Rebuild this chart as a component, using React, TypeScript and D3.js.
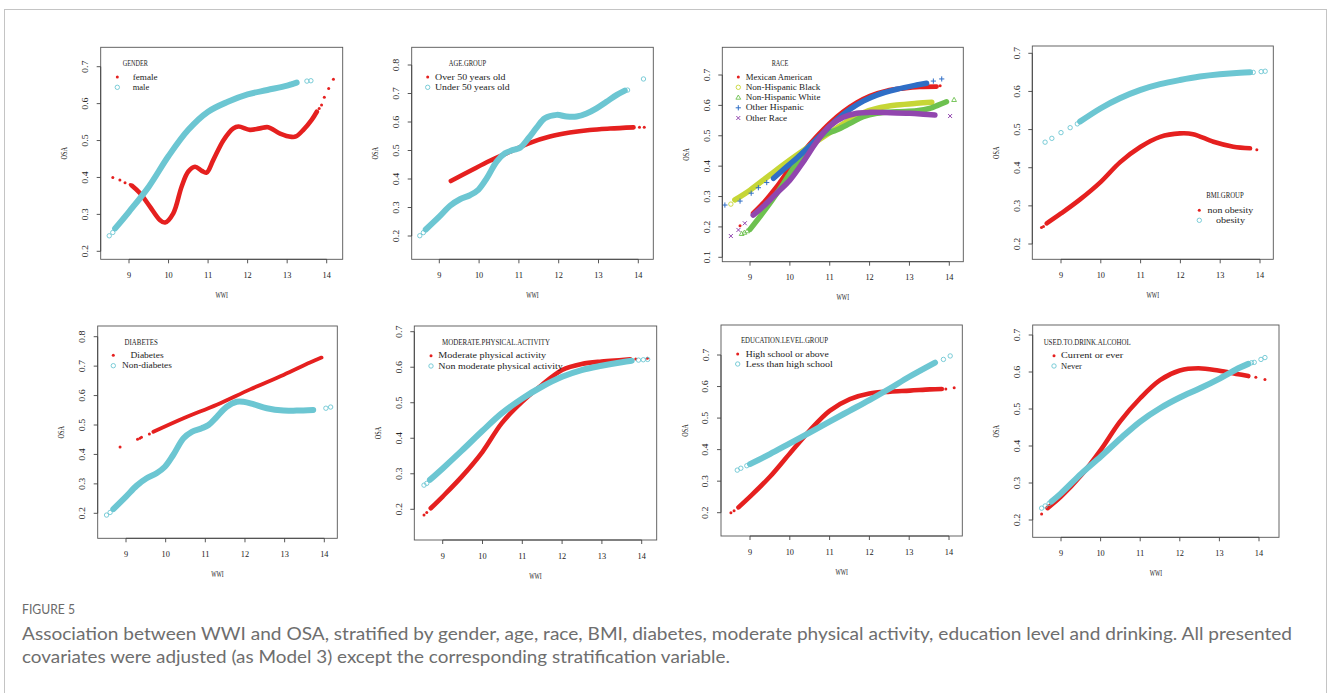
import React from 'react';
import * as d3 from 'd3';

type Pt = [number, number];

// ---------------- data ----------------
const xTicks = [9, 10, 11, 12, 13, 14];

// GENDER
const femaleCurve: Pt[] = [[9.07,0.378],[9.28,0.357],[9.53,0.321],[9.78,0.285],[9.91,0.278],[10.12,0.303],[10.33,0.375],[10.5,0.416],[10.67,0.429],[10.84,0.418],[10.96,0.413],[11.13,0.447],[11.39,0.501],[11.64,0.533],[11.77,0.538],[12.06,0.529],[12.31,0.533],[12.52,0.536],[12.82,0.519],[13.11,0.51],[13.22,0.511],[13.41,0.529],[13.62,0.556],[13.75,0.578]];
const femaleDots: Pt[] = [[8.59,0.4],[8.77,0.393],[8.9,0.386],[9.03,0.381],[13.81,0.587],[13.87,0.596],[13.94,0.617],[14.05,0.641],[14.17,0.666]];
const maleCurve: Pt[] = [[8.65,0.262],[9,0.307],[9.5,0.375],[10,0.458],[10.5,0.529],[11,0.578],[11.5,0.605],[12,0.625],[12.5,0.637],[13,0.649],[13.24,0.657]];
const maleDots: Pt[] = [[8.5,0.242],[8.59,0.251],[13.07,0.652],[13.15,0.654],[13.5,0.661],[13.6,0.662]];

// AGE.GROUP
const over50Curve: Pt[] = [[9.29,0.393],[9.77,0.428],[10.27,0.464],[10.78,0.496],[11.28,0.527],[11.78,0.549],[12.28,0.563],[12.78,0.572],[13.29,0.577],[13.88,0.581]];
const over50Dots: Pt[] = [[14.03,0.582],[14.15,0.582]];
const under50Curve: Pt[] = [[8.66,0.223],[9,0.268],[9.27,0.306],[9.52,0.329],[9.77,0.343],[9.98,0.362],[10.19,0.402],[10.44,0.461],[10.65,0.49],[10.86,0.502],[11.03,0.51],[11.24,0.543],[11.45,0.581],[11.65,0.613],[11.95,0.625],[12.2,0.619],[12.45,0.619],[12.7,0.63],[12.95,0.648],[13.2,0.671],[13.46,0.695],[13.66,0.71]];
const under50Dots: Pt[] = [[8.51,0.201],[8.6,0.212],[13.73,0.712],[14.13,0.751]];

// RACE
const mexCurve: Pt[] = [[9.08,0.245],[9.33,0.278],[9.67,0.332],[10,0.393],[10.34,0.448],[10.67,0.497],[11,0.541],[11.34,0.579],[11.68,0.609],[12.01,0.631],[12.43,0.648],[12.85,0.656],[13.26,0.661],[13.68,0.662]];
const mexDots: Pt[] = [[8.75,0.204],[13.77,0.665]];
const blackCurve: Pt[] = [[8.62,0.289],[9,0.321],[9.5,0.371],[10,0.42],[10.5,0.466],[11,0.51],[11.5,0.552],[11.84,0.576],[12.18,0.59],[12.68,0.601],[13.18,0.607],[13.56,0.61]];
const blackDots: Pt[] = [[8.52,0.275]];
const whiteCurve: Pt[] = [[9,0.192],[9.25,0.234],[9.5,0.278],[9.84,0.343],[10.17,0.409],[10.5,0.464],[10.84,0.502],[11.17,0.519],[11.51,0.541],[11.84,0.563],[12.18,0.574],[12.68,0.579],[13.18,0.582],[13.51,0.59],[13.72,0.601],[13.93,0.612]];
const whiteDots: Pt[] = [[8.79,0.177],[8.86,0.181],[8.93,0.186],[14.12,0.618]];
const hispCurve: Pt[] = [[9.59,0.36],[9.84,0.389],[10.17,0.426],[10.5,0.466],[10.84,0.51],[11.17,0.552],[11.51,0.587],[11.84,0.614],[12.18,0.634],[12.68,0.653],[13.18,0.667],[13.43,0.673]];
const hispDots: Pt[] = [[8.37,0.272],[8.75,0.285],[9.03,0.311],[9.21,0.329],[9.42,0.346],[13.6,0.68],[13.81,0.687]];
const otherCurve: Pt[] = [[9.08,0.239],[9.33,0.267],[9.67,0.311],[10,0.354],[10.34,0.415],[10.67,0.48],[11,0.532],[11.34,0.561],[11.68,0.574],[12.01,0.577],[12.51,0.576],[13.01,0.574],[13.35,0.571],[13.64,0.568]];
const otherDots: Pt[] = [[8.52,0.17],[8.71,0.19],[8.87,0.212],[14.02,0.565]];

// BMI.GROUP
const nonObeseCurve: Pt[] = [[8.64,0.254],[9,0.28],[9.48,0.317],[10,0.363],[10.48,0.414],[11,0.455],[11.49,0.481],[11.99,0.49],[12.32,0.488],[12.83,0.468],[13.33,0.455],[13.75,0.451]];
const nonObeseDots: Pt[] = [[8.51,0.243],[8.56,0.246],[13.92,0.447]];
const obeseCurve: Pt[] = [[9.48,0.521],[10,0.556],[10.48,0.582],[11,0.604],[11.49,0.619],[11.99,0.63],[12.49,0.639],[12.99,0.645],[13.5,0.649],[13.75,0.65]];
const obeseDots: Pt[] = [[8.6,0.467],[8.77,0.477],[9,0.492],[9.23,0.505],[9.41,0.515],[13.83,0.65],[14.03,0.652],[14.13,0.653]];

// DIABETES
const diabCurve: Pt[] = [[9.69,0.477],[10.45,0.523],[11.29,0.569],[12.13,0.621],[12.97,0.67],[13.64,0.712],[13.93,0.729]];
const diabDots: Pt[] = [[8.85,0.425],[9.29,0.452],[9.35,0.455],[9.39,0.458],[9.59,0.469]];
const nonDiabCurve: Pt[] = [[8.68,0.214],[9,0.257],[9.27,0.294],[9.52,0.319],[9.77,0.336],[9.98,0.358],[10.19,0.398],[10.45,0.455],[10.66,0.477],[10.91,0.489],[11.08,0.5],[11.29,0.528],[11.54,0.562],[11.79,0.579],[11.96,0.579],[12.21,0.571],[12.55,0.557],[12.97,0.549],[13.3,0.549],[13.72,0.551]];
const nonDiabDots: Pt[] = [[8.51,0.194],[8.6,0.203],[14.04,0.557],[14.16,0.561]];

// MODERATE.PHYSICAL.ACTIVITY
const modCurve: Pt[] = [[8.7,0.203],[9,0.236],[9.48,0.292],[10,0.362],[10.48,0.442],[11,0.503],[11.49,0.55],[12,0.592],[12.49,0.609],[12.99,0.616],[13.5,0.62],[13.71,0.622]];
const modDots: Pt[] = [[8.53,0.184],[8.6,0.191],[13.85,0.623],[14.14,0.625]];
const nonModCurve: Pt[] = [[8.68,0.283],[9,0.315],[9.48,0.365],[10,0.421],[10.48,0.47],[11,0.512],[11.49,0.545],[12,0.573],[12.49,0.592],[12.99,0.604],[13.5,0.614],[13.75,0.618]];
const nonModDots: Pt[] = [[8.53,0.268],[8.6,0.273],[13.92,0.62],[14.04,0.621],[14.15,0.622]];

// EDUCATION.LEVEL.GROUP
const hsCurve: Pt[] = [[8.71,0.217],[9,0.251],[9.5,0.314],[10,0.388],[10.51,0.462],[11,0.523],[11.51,0.56],[12,0.578],[12.52,0.584],[13.02,0.587],[13.52,0.591],[13.82,0.592]];
const hsDots: Pt[] = [[8.52,0.2],[8.6,0.206],[13.92,0.592],[14.13,0.596]];
const lessHsCurve: Pt[] = [[9,0.354],[9.5,0.386],[10,0.42],[10.5,0.454],[11,0.489],[11.5,0.523],[12,0.557],[12.5,0.593],[13,0.631],[13.65,0.676]];
const lessHsDots: Pt[] = [[8.68,0.335],[8.77,0.341],[8.92,0.349],[13.86,0.686],[14.03,0.697]];

// USED.TO.DRINK.ALCOHOL
const currentCurve: Pt[] = [[8.66,0.232],[9,0.263],[9.52,0.322],[10,0.389],[10.49,0.466],[11,0.529],[11.5,0.578],[12,0.604],[12.47,0.61],[12.97,0.604],[13.48,0.594],[13.73,0.589]];
const currentDots: Pt[] = [[8.51,0.216],[13.92,0.586],[14.15,0.58]];
const neverCurve: Pt[] = [[8.76,0.25],[9,0.272],[9.52,0.326],[10,0.371],[10.53,0.423],[11,0.466],[11.5,0.502],[12,0.531],[12.51,0.556],[13.02,0.583],[13.52,0.612],[13.73,0.622]];
const neverDots: Pt[] = [[8.51,0.232],[8.6,0.238],[8.7,0.245],[13.81,0.625],[13.88,0.626],[14.05,0.634],[14.15,0.639]];

const captionHead = 'FIGURE 5';
const captionLine1 = 'Association between WWI and OSA, stratified by gender, age, race, BMI, diabetes, moderate physical activity, education level and drinking. All presented';
const captionLine2 = 'covariates were adjusted (as Model 3) except the corresponding stratification variable.';

// ---------------- styles ----------------
const RED = '#E5201F';
const CYAN = '#6CC6D2';
const YGREEN = '#C6D636';
const GREEN = '#6DC14F';
const BLUE = '#2F6EC6';
const PURPLE = '#9146AE';

type Shape = 'dot' | 'circle' | 'triangle' | 'plus' | 'cross';
interface Series { label: string; color: string; shape: Shape; curve: Pt[]; dots: Pt[]; band: number; }
interface Panel {
  title: string;
  box: [number, number, number, number];
  xCal: [number, number];
  yCal: [number, number, number, number];
  yTicks: number[];
  legend: { tx: number; ty: number; sx: number; textX: number; rows: number[]; anchor: 'start' | 'middle' };
  series: Series[];
}

const range = (a: number, b: number) => d3.range(Math.round(a * 10), Math.round(b * 10) + 1).map(v => v / 10);

const panels: Panel[] = [
  { title: 'GENDER', box: [100.7, 47.3, 342.7, 259.3], xCal: [129, 326.7], yCal: [0.2, 251.3, 0.7, 66.7], yTicks: range(0.2, 0.7),
    legend: { tx: 135.3, ty: 63.3, sx: 117.3, textX: 132.7, rows: [77, 87.3], anchor: 'start' },
    series: [
      { label: 'female', color: RED, shape: 'dot', curve: femaleCurve, dots: femaleDots, band: 4.6 },
      { label: 'male', color: CYAN, shape: 'circle', curve: maleCurve, dots: maleDots, band: 6 },
    ] },
  { title: 'AGE.GROUP', box: [411.7, 47.3, 653.3, 259.3], xCal: [439.3, 638.3], yCal: [0.2, 236, 0.8, 65], yTicks: range(0.2, 0.8),
    legend: { tx: 467.5, ty: 63.3, sx: 427.7, textX: 435, rows: [77, 87.3], anchor: 'start' },
    series: [
      { label: 'Over 50 years old', color: RED, shape: 'dot', curve: over50Curve, dots: over50Dots, band: 4.6 },
      { label: 'Under 50 years old', color: CYAN, shape: 'circle', curve: under50Curve, dots: under50Dots, band: 6 },
    ] },
  { title: 'RACE', box: [722.3, 47.3, 963.3, 261.7], xCal: [750, 949.3], yCal: [0.1, 257.3, 0.7, 75], yTicks: range(0.1, 0.7),
    legend: { tx: 780, ty: 63.3, sx: 738.3, textX: 745.7, rows: [77, 87.3, 97.6, 107.8, 118], anchor: 'start' },
    series: [
      { label: 'Mexican American', color: RED, shape: 'dot', curve: mexCurve, dots: mexDots, band: 4.8 },
      { label: 'Non-Hispanic Black', color: YGREEN, shape: 'circle', curve: blackCurve, dots: blackDots, band: 5.5 },
      { label: 'Non-Hispanic White', color: GREEN, shape: 'triangle', curve: whiteCurve, dots: whiteDots, band: 5.5 },
      { label: 'Other Hispanic', color: BLUE, shape: 'plus', curve: hispCurve, dots: hispDots, band: 5.5 },
      { label: 'Other Race', color: PURPLE, shape: 'cross', curve: otherCurve, dots: otherDots, band: 5.5 },
    ] },
  { title: 'BMI.GROUP', box: [1032.3, 46, 1273.3, 259.3], xCal: [1061, 1260], yCal: [0.2, 244, 0.7, 53.3], yTicks: range(0.2, 0.7),
    legend: { tx: 1225, ty: 195.7, sx: 1199.3, textX: 1230.4, rows: [210.3, 220.3], anchor: 'middle' },
    series: [
      { label: 'non obesity', color: RED, shape: 'dot', curve: nonObeseCurve, dots: nonObeseDots, band: 4.6 },
      { label: 'obesity', color: CYAN, shape: 'circle', curve: obeseCurve, dots: obeseDots, band: 6 },
    ] },
  { title: 'DIABETES', box: [97.7, 326, 337.3, 538.3], xCal: [126, 324.3], yCal: [0.2, 513.3, 0.8, 336.7], yTicks: range(0.2, 0.8),
    legend: { tx: 141.2, ty: 342.3, sx: 113.3, textX: 147, rows: [355.3, 365.7], anchor: 'middle' },
    series: [
      { label: 'Diabetes', color: RED, shape: 'dot', curve: diabCurve, dots: diabDots, band: 3.8 },
      { label: 'Non-diabetes', color: CYAN, shape: 'circle', curve: nonDiabCurve, dots: nonDiabDots, band: 6 },
    ] },
  { title: 'MODERATE.PHYSICAL.ACTIVITY', box: [414.3, 326, 656.7, 540], xCal: [442.7, 641.7], yCal: [0.2, 509.3, 0.7, 331.7], yTicks: range(0.2, 0.7),
    legend: { tx: 496, ty: 342.3, sx: 431, textX: 438.3, rows: [355.7, 366], anchor: 'start' },
    series: [
      { label: 'Moderate physical activity', color: RED, shape: 'dot', curve: modCurve, dots: modDots, band: 4.6 },
      { label: 'Non moderate physical activity', color: CYAN, shape: 'circle', curve: nonModCurve, dots: nonModDots, band: 6 },
    ] },
  { title: 'EDUCATION.LEVEL.GROUP', box: [721, 325, 962.3, 536], xCal: [750, 949], yCal: [0.2, 512.7, 0.7, 355], yTicks: range(0.2, 0.7),
    legend: { tx: 784.5, ty: 340, sx: 737.7, textX: 745.7, rows: [354, 364], anchor: 'start' },
    series: [
      { label: 'High school or above', color: RED, shape: 'dot', curve: hsCurve, dots: hsDots, band: 4.6 },
      { label: 'Less than high school', color: CYAN, shape: 'circle', curve: lessHsCurve, dots: lessHsDots, band: 6 },
    ] },
  { title: 'USED.TO.DRINK.ALCOHOL', box: [1032.7, 325, 1279, 537.3], xCal: [1061, 1259], yCal: [0.2, 520, 0.7, 335], yTicks: range(0.2, 0.7),
    legend: { tx: 1087.2, ty: 342.3, sx: 1054, textX: 1061, rows: [355.7, 366], anchor: 'start' },
    series: [
      { label: 'Current or ever', color: RED, shape: 'dot', curve: currentCurve, dots: currentDots, band: 4.6 },
      { label: 'Never', color: CYAN, shape: 'circle', curve: neverCurve, dots: neverDots, band: 6 },
    ] },
];

// ---------------- components ----------------
const CHAR_W = 4.15;
const FONT = "'Liberation Serif', 'DejaVu Serif', serif";

function RText({ x, y, text, anchor = 'middle', rotate = false, size = 8.3, fill = '#222', w = CHAR_W }:
  { x: number; y: number; text: string; anchor?: string; rotate?: boolean; size?: number; fill?: string; w?: number }) {
  return (
    <text x={x} y={y} textAnchor={anchor} dominantBaseline="central" fontFamily={FONT} fontSize={size} fill={fill}
      textLength={text.length * w} lengthAdjust="spacingAndGlyphs"
      transform={rotate ? `rotate(-90 ${x} ${y})` : undefined}>{text}</text>
  );
}

function Marker({ shape, x, y, color }: { shape: Shape; x: number; y: number; color: string }) {
  switch (shape) {
    case 'dot': return <circle cx={x} cy={y} r={1.5} fill={color} />;
    case 'circle': return <circle cx={x} cy={y} r={2.2} fill="none" stroke={color} strokeWidth={0.9} />;
    case 'triangle': return <path d={`M${x},${y - 2.6}L${x + 2.4},${y + 1.6}L${x - 2.4},${y + 1.6}Z`} fill="none" stroke={color} strokeWidth={0.9} />;
    case 'plus': return <path d={`M${x - 2.6},${y}H${x + 2.6}M${x},${y - 2.6}V${y + 2.6}`} stroke={color} strokeWidth={1} />;
    case 'cross': return <path d={`M${x - 2},${y - 2}L${x + 2},${y + 2}M${x - 2},${y + 2}L${x + 2},${y - 2}`} stroke={color} strokeWidth={1} />;
  }
}

function PanelView({ p }: { p: Panel }) {
  const [l, t, r, b] = p.box;
  const x = d3.scaleLinear().domain([9, 14]).range(p.xCal);
  const y = d3.scaleLinear().domain([p.yCal[0], p.yCal[2]]).range([p.yCal[1], p.yCal[3]]);
  const line = d3.line<Pt>().x(d => x(d[0])).y(d => y(d[1])).curve(d3.curveCatmullRom.alpha(0.5));
  const yt = p.yTicks;
  return (
    <g>
      {p.series.map((s, i) => (
        <g key={i}>
          <path d={line(s.curve) || ''} fill="none" stroke={s.color} strokeWidth={s.band} strokeLinecap="round" strokeLinejoin="round" />
          {s.dots.map((d, j) => <Marker key={j} shape={s.shape} x={x(d[0])} y={y(d[1])} color={s.color} />)}
        </g>
      ))}
      <rect x={l} y={t} width={r - l} height={b - t} fill="none" stroke="#555" strokeWidth={0.9} />
      <line x1={x(xTicks[0])} x2={x(xTicks[xTicks.length - 1])} y1={b} y2={b} stroke="#444" strokeWidth={0.9} />
      {xTicks.map(v => (
        <g key={v}>
          <line x1={x(v)} x2={x(v)} y1={b} y2={b + 4} stroke="#444" strokeWidth={0.9} />
          <RText x={x(v)} y={b + 16} text={String(v)} />
        </g>
      ))}
      <line x1={l} x2={l} y1={y(yt[0])} y2={y(yt[yt.length - 1])} stroke="#444" strokeWidth={0.9} />
      {yt.map(v => (
        <g key={v}>
          <line x1={l - 4} x2={l} y1={y(v)} y2={y(v)} stroke="#444" strokeWidth={0.9} />
          <RText x={l - 15} y={y(v)} text={v.toFixed(1)} rotate />
        </g>
      ))}
      <RText x={(l + r) / 2} y={b + 36} text="WWI" />
      <RText x={l - 36} y={(t + b) / 2} text="OSA" rotate />
      <RText x={p.legend.tx} y={p.legend.ty} text={p.title} />
      {p.series.map((s, i) => (
        <g key={'lg' + i}>
          <Marker shape={s.shape} x={p.legend.sx} y={p.legend.rows[i]} color={s.color} />
          <RText x={p.legend.textX} y={p.legend.rows[i]} text={s.label} anchor={p.legend.anchor} />
        </g>
      ))}
    </g>
  );
}

export default function App() {
  const capFont = "Lato, 'Open Sans', sans-serif";
  return (
    <svg width={1328} height={693} style={{ position: 'absolute', left: 0, top: 0, background: '#fff' }}>
      <rect x={0} y={0} width={1328} height={693} fill="#fff" />
      <rect x={4.5} y={9.5} width={1322} height={720} fill="none" stroke="#c4c4c4" strokeWidth={1} />
      {panels.map((p, i) => <PanelView key={i} p={p} />)}
      <text x={22} y={614} fontFamily={capFont} fontSize={13} fontWeight={400} fill="#6a6a6a" textLength={53} lengthAdjust="spacingAndGlyphs">{captionHead}</text>
      <text x={22} y={639.5} fontFamily={capFont} fontSize={16.5} fontWeight={400} fill="#6e6e6e" textLength={1270} lengthAdjust="spacingAndGlyphs">{captionLine1}</text>
      <text x={22} y={662.5} fontFamily={capFont} fontSize={16.5} fontWeight={400} fill="#6e6e6e" textLength={708} lengthAdjust="spacingAndGlyphs">{captionLine2}</text>
    </svg>
  );
}
